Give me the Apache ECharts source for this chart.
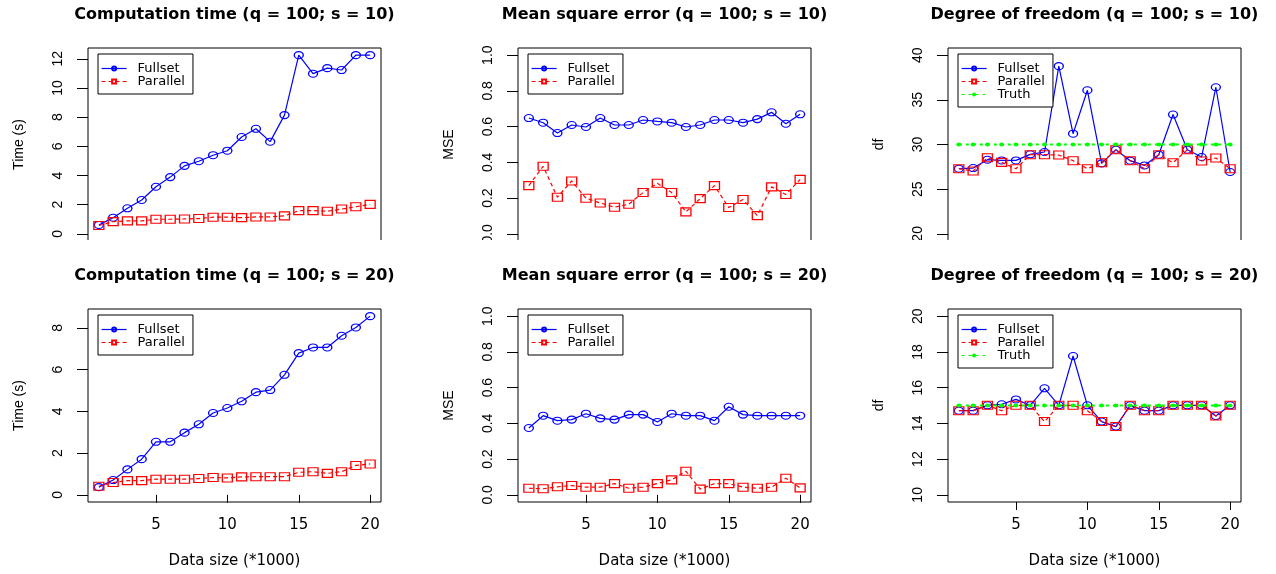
<!DOCTYPE html>
<html><head><meta charset="utf-8">
<script src="https://cdn.jsdelivr.net/npm/echarts@6/dist/echarts.min.js"></script>
<style>html,body{margin:0;padding:0;background:#fff}#c{width:1276px;height:574px}</style>
</head><body><div id="c"></div>
<script>
// ---------- data ----------
const dataSize = [1,2,3,4,5,6,7,8,9,10,11,12,13,14,15,16,17,18,19,20];
const xTickValues = [5,10,15,20];

const time10Fullset  = [0.61,1.11,1.75,2.32,3.23,3.89,4.66,4.98,5.39,5.70,6.64,7.20,6.32,8.14,12.25,10.98,11.36,11.23,12.25,12.25];
const time10Parallel = [0.57,0.84,0.89,0.89,1.00,1.00,1.02,1.05,1.14,1.14,1.11,1.16,1.16,1.23,1.59,1.59,1.55,1.70,1.86,2.02];

const mse10Fullset  = [0.648,0.622,0.564,0.609,0.598,0.648,0.609,0.609,0.637,0.629,0.622,0.598,0.609,0.637,0.637,0.622,0.642,0.680,0.616,0.669];
const mse10Parallel = [0.270,0.378,0.205,0.296,0.199,0.173,0.149,0.166,0.231,0.283,0.231,0.123,0.197,0.270,0.147,0.192,0.102,0.263,0.220,0.305];

const df10Fullset  = [27.29,27.36,28.30,28.22,28.22,28.90,29.16,38.77,31.21,36.07,27.89,29.42,28.19,27.66,28.86,33.35,29.42,28.60,36.41,26.92];
const df10Parallel = [27.29,27.03,28.52,28.00,27.29,28.86,28.86,28.82,28.19,27.29,27.96,29.42,28.19,27.29,28.86,27.96,29.42,28.15,28.49,27.29];
const df10Truth    = [30,30,30,30,30,30,30,30,30,30,30,30,30,30,30,30,30,30,30,30];

const time20Fullset  = [0.37,0.71,1.22,1.71,2.54,2.54,2.98,3.38,3.92,4.16,4.48,4.92,5.02,5.75,6.79,7.06,7.06,7.62,8.02,8.56];
const time20Parallel = [0.41,0.59,0.68,0.68,0.75,0.75,0.75,0.78,0.83,0.81,0.86,0.87,0.87,0.87,1.08,1.11,1.03,1.11,1.41,1.48];

const mse20Fullset  = [0.374,0.443,0.415,0.421,0.454,0.428,0.421,0.449,0.449,0.408,0.454,0.443,0.443,0.415,0.493,0.449,0.443,0.443,0.443,0.443];
const mse20Parallel = [0.037,0.034,0.045,0.052,0.043,0.043,0.063,0.037,0.043,0.063,0.084,0.132,0.032,0.063,0.063,0.043,0.037,0.043,0.093,0.039];

const df20Fullset  = [14.71,14.71,15.01,15.07,15.34,15.01,15.96,15.01,17.77,15.01,14.10,13.82,15.01,14.71,14.71,15.01,15.01,15.01,14.41,15.01];
const df20Parallel = [14.71,14.71,15.01,14.71,15.01,15.01,14.10,15.01,15.01,14.71,14.10,13.82,15.01,14.71,14.71,15.01,15.01,15.01,14.41,15.01];
const df20Truth    = [15,15,15,15,15,15,15,15,15,15,15,15,15,15,15,15,15,15,15,15];

const time10Ticks = [0,2,4,6,8,10,12];
const time20Ticks = [0,2,4,6,8];
const mseTicks    = [0,0.2,0.4,0.6,0.8,1.0];
const df10Ticks   = [20,25,30,35,40];
const df20Ticks   = [10,12,14,16,18,20];

const titles = [
  'Computation time (q = 100; s = 10)', 'Mean square error (q = 100; s = 10)', 'Degree of freedom (q = 100; s = 10)',
  'Computation time (q = 100; s = 20)', 'Mean square error (q = 100; s = 20)', 'Degree of freedom (q = 100; s = 20)'
];
const yNames = ['Time (s)', 'MSE', 'df', 'Time (s)', 'MSE', 'df'];
const xName = 'Data size (*1000)';
const seriesNames = ['Fullset', 'Parallel', 'Truth'];

// ---------- layout / style ----------
const gridLefts = [88, 518, 948];
const gridTops = [48, 309];
const gridW = 293, gridH = 193;
const BLUE = '#0000ff', RED = '#ff0000', GREEN = '#00ff00';
const SANS = 'DejaVu Sans';
const ARIAL = 'Liberation Sans, Arial, sans-serif';

const panels = [
  {lim:[0, 12.25], ticks: time10Ticks, full: time10Fullset, par: time10Parallel, fmt: v => String(v)},
  {lim:[0, 1], ticks: mseTicks, full: mse10Fullset, par: mse10Parallel, fmt: v => Number(v).toFixed(1)},
  {lim:[20, 40], ticks: df10Ticks, full: df10Fullset, par: df10Parallel, truth: df10Truth, fmt: v => String(v)},
  {lim:[0, 8.56], ticks: time20Ticks, full: time20Fullset, par: time20Parallel, fmt: v => String(v)},
  {lim:[0, 1], ticks: mseTicks, full: mse20Fullset, par: mse20Parallel, fmt: v => Number(v).toFixed(1)},
  {lim:[10, 20], ticks: df20Ticks, full: df20Fullset, par: df20Parallel, truth: df20Truth, fmt: v => String(v)}
];

const xLo = Math.min(...dataSize), xHi = Math.max(...dataSize);
const xPad = 0.04 * (xHi - xLo);

const grid = [], xAxis = [], yAxis = [], series = [], title = [], legend = [];
panels.forEach((p, i) => {
  const col = i % 3, row = Math.floor(i / 3);
  const left = gridLefts[col], top = gridTops[row];
  const bottomRow = row === 1;
  grid.push({left, top, width: gridW, height: gridH, show: true, borderColor: '#000', borderWidth: 1, backgroundColor: 'transparent', containLabel: false});
  title.push({
    text: titles[i], left: left + gridW / 2, top: row === 0 ? 7 : 268, textAlign: 'center', padding: 0,
    textStyle: {fontFamily: SANS, fontWeight: 'bold', fontSize: 16, color: '#000'}
  });
  xAxis.push({
    type: 'value', gridIndex: i, min: xLo - xPad, max: xHi + xPad,
    axisLine: {show: false}, splitLine: {show: false},
    axisTick: {show: bottomRow, customValues: xTickValues, length: 8, lineStyle: {color: '#000', width: 1}},
    axisLabel: {show: bottomRow, customValues: xTickValues, margin: 16, fontFamily: SANS, fontSize: 15, color: '#000'},
    name: bottomRow ? xName : '', nameLocation: 'middle', nameGap: 52,
    nameTextStyle: {fontFamily: SANS, fontSize: 15, color: '#000'}
  });
  const yPad = 0.04 * (p.lim[1] - p.lim[0]);
  yAxis.push({
    type: 'value', gridIndex: i, min: p.lim[0] - yPad, max: p.lim[1] + yPad,
    axisLine: {show: false}, splitLine: {show: false},
    axisTick: {show: true, customValues: p.ticks, length: 11, lineStyle: {color: '#000', width: 1}},
    axisLabel: {show: true, customValues: p.ticks, rotate: 90, margin: 23, fontFamily: ARIAL, fontSize: 14, color: '#000', formatter: p.fmt},
    name: yNames[i], nameLocation: 'middle', nameGap: 62,
    nameTextStyle: {fontFamily: ARIAL, fontSize: 14, color: '#000'}
  });
  const pts = arr => dataSize.map((x, k) => [x, arr[k]]);
  series.push({
    name: seriesNames[0], type: 'line', xAxisIndex: i, yAxisIndex: i, data: pts(p.full),
    symbol: 'circle', symbolSize: [9, 7], showAllSymbol: true,
    itemStyle: {color: 'rgba(255,255,255,0)', borderColor: BLUE, borderWidth: 1.2},
    lineStyle: {color: BLUE, width: 1.2}, emphasis: {disabled: true}, silent: true, z: 3
  });
  series.push({
    name: seriesNames[1], type: 'line', xAxisIndex: i, yAxisIndex: i, data: pts(p.par),
    symbol: 'rect', symbolSize: [10, 8], showAllSymbol: true,
    itemStyle: {color: 'rgba(255,255,255,0)', borderColor: RED, borderWidth: 1.2},
    lineStyle: {color: RED, width: 1.2, type: [4, 3]}, emphasis: {disabled: true}, silent: true, z: 4
  });
  const names = [seriesNames[0], seriesNames[1]];
  if (p.truth) {
    series.push({
      name: seriesNames[2], type: 'line', xAxisIndex: i, yAxisIndex: i, data: pts(p.truth),
      symbol: 'circle', symbolSize: [5, 4], showAllSymbol: true,
      itemStyle: {color: GREEN, borderWidth: 0},
      lineStyle: {color: GREEN, width: 2, type: [3, 4]}, emphasis: {disabled: true}, silent: true, z: 5
    });
    names.push(seriesNames[2]);
  }
  legend.push({
    data: names, left: left + 10, top: top + 6, orient: 'vertical',
    borderColor: '#000', borderWidth: 1, borderRadius: 0, backgroundColor: '#fff',
    padding: [8, 8, 6, 3], itemWidth: 25, itemHeight: 5, itemGap: 0, selectedMode: false,
    lineStyle: {width: 1.2},
    textStyle: {fontFamily: SANS, fontSize: 13, color: '#000', padding: [0, 0, 0, 6]}
  });
});

const chart = echarts.init(document.getElementById('c'));
chart.setOption({
  backgroundColor: '#fff', animation: false,
  title, legend, grid, xAxis, yAxis, series,
  graphic: [{type: 'rect', left: 0, top: 240, shape: {width: 1276, height: 25}, style: {fill: '#fff'}, z: 100, silent: true}]
});
</script></body></html>
